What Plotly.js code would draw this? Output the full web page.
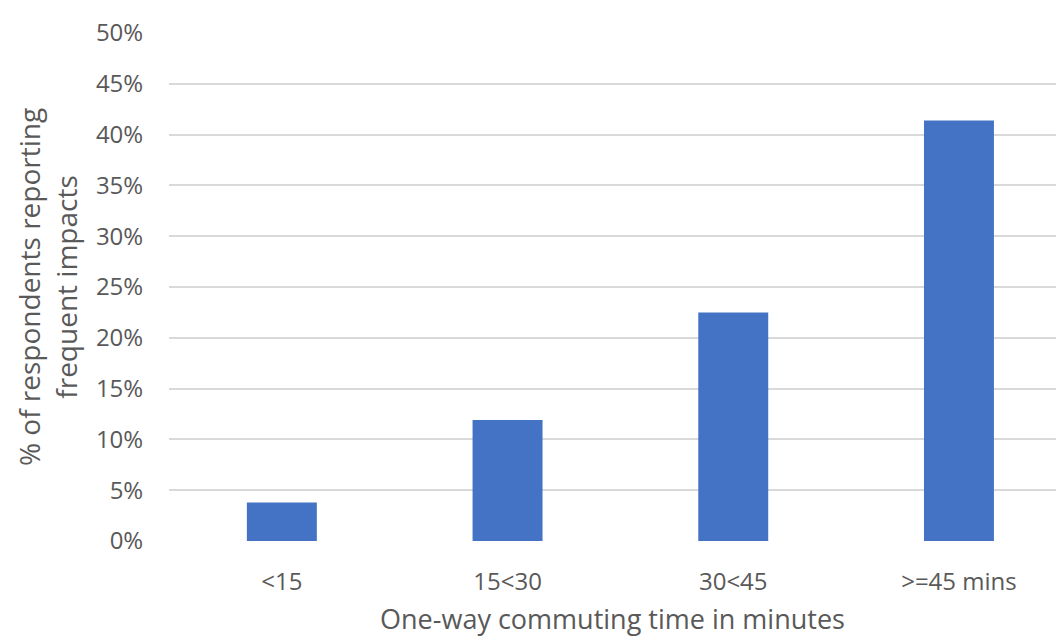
<!DOCTYPE html>
<html>
<head>
<meta charset="utf-8">
<script src="https://cdn.plot.ly/plotly-3.0.1.min.js"></script>
<style>html,body{margin:0;padding:0;background:#fff;}#chart{width:1056px;height:637px;}</style>
</head>
<body>
<div id="chart"></div>
<script>
const categories = ["<15", "15<30", "30<45", ">=45 mins"];
const values = [0.038, 0.119, 0.225, 0.414];
const yTickVals = [0, 0.05, 0.10, 0.15, 0.20, 0.25, 0.30, 0.35, 0.40, 0.45, 0.50];
const yTickText = ["0%", "5%", "10%", "15%", "20%", "25%", "30%", "35%", "40%", "45%", "50%"];
const xTitle = "One-way commuting time in minutes";
const yTitle = "% of respondents reporting<br>frequent impacts";

const FONT = "Open Sans, Noto Sans, sans-serif";
const trace = {
  type: "bar",
  x: categories.map((c, i) => i),
  y: values,
  width: 0.31,
  marker: {color: "#4472C4", line: {width: 0}},
  hoverinfo: "skip"
};
const layout = {
  width: 1056, height: 637,
  margin: {l: 169, r: 0, t: 33, b: 96, pad: 0},
  paper_bgcolor: "#fff", plot_bgcolor: "#fff",
  showlegend: false,
  font: {family: FONT, color: "#595959", size: 18},
  xaxis: {
    range: [-0.5, 3.43],
    tickvals: [0, 1, 2, 3],
    ticktext: categories,
    ticks: "outside", ticklen: 19, tickcolor: "rgba(0,0,0,0)",
    showgrid: false, zeroline: false, showline: false,
    tickfont: {family: FONT, size: 24, color: "#595959"},
    title: {text: xTitle, font: {family: FONT, size: 27, color: "#595959"}, standoff: 19},
    fixedrange: true
  },
  yaxis: {
    range: [0, 0.5],
    tickvals: yTickVals,
    ticktext: yTickText,
    ticks: "outside", ticklen: 20, tickcolor: "rgba(0,0,0,0)",
    showgrid: true, gridcolor: "#D9D9D9", gridwidth: 2,
    zeroline: false, showline: false,
    tickfont: {family: FONT, size: 24, color: "#595959"},
    title: {text: yTitle, font: {family: FONT, size: 28, color: "#595959"}, standoff: 10},
    fixedrange: true
  }
};
Plotly.newPlot("chart", [trace], layout, {displayModeBar: false, staticPlot: true});
</script>
</body>
</html>
